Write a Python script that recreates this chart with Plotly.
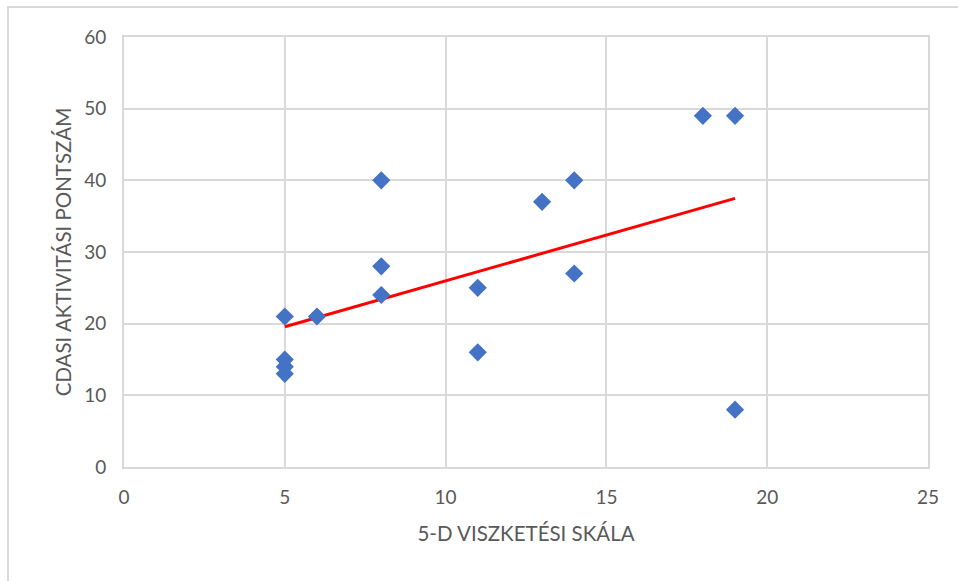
import numpy as np
import plotly.graph_objects as go

# 5-D itch scale score vs. CDASI activity score
itch_scale = [5, 5, 5, 5, 6, 8, 8, 8, 11, 11, 13, 14, 14, 18, 19, 19]
cdasi_activity = [21, 15, 14, 13, 21, 40, 28, 24, 25, 16, 37, 40, 27, 49, 49, 8]

x_ticks = [0, 5, 10, 15, 20, 25]
y_ticks = [0, 10, 20, 30, 40, 50, 60]

# least-squares linear trend over the data span
slope, intercept = np.polyfit(itch_scale, cdasi_activity, 1)
trend_x = np.array([min(itch_scale), max(itch_scale)])
trend_y = slope * trend_x + intercept

W, H = 958, 581
L, R, T, B = 124, 30, 37, 114
pw, ph = W - L - R, H - T - B

grid = "#d9d9d9"
txt = "#595959"
font = "Lato, 'Open Sans', sans-serif"

fig = go.Figure()
fig.add_trace(go.Scatter(
    x=trend_x, y=trend_y, mode="lines",
    line=dict(color="#ff0000", width=3), hoverinfo="skip", showlegend=False,
))
fig.add_trace(go.Scatter(
    x=itch_scale, y=cdasi_activity, mode="markers",
    marker=dict(symbol="diamond", size=14, color="#4472c4"),
    showlegend=False,
))

# outer chart frame
fig.add_shape(
    type="rect", xref="paper", yref="paper",
    x0=(8 - L) / pw, x1=(W + 20 - L) / pw,
    y0=-(H + 20 - T - ph) / ph, y1=(T + ph - 7) / ph,
    line=dict(color=grid, width=2), fillcolor="rgba(0,0,0,0)", layer="below",
)

fig.update_layout(
    width=W, height=H,
    margin=dict(l=L, r=R, t=T, b=B),
    paper_bgcolor="white", plot_bgcolor="white",
    font=dict(family=font, color=txt, size=18),
    xaxis=dict(
        range=[0, 25], tickvals=x_ticks, showgrid=True, gridcolor=grid, gridwidth=2,
        zeroline=False, showline=True, linecolor=grid, linewidth=2, mirror=True,
        ticks="outside", ticklen=12, tickcolor="rgba(0,0,0,0)",
        tickfont=dict(size=19, color=txt),
        title=dict(text="5-D VISZKETÉSI SKÁLA", font=dict(size=20.5, color=txt), standoff=20),
    ),
    yaxis=dict(
        range=[0, 60], tickvals=y_ticks, showgrid=True, gridcolor=grid, gridwidth=2,
        zeroline=False, showline=True, linecolor=grid, linewidth=2, mirror=True,
        ticks="outside", ticklen=12, tickcolor="rgba(0,0,0,0)",
        tickfont=dict(size=19, color=txt),
        title=dict(text="CDASI AKTIVITÁSI PONTSZÁM", font=dict(size=20.5, color=txt), standoff=7),
    ),
)

fig.write_html("out.html")
